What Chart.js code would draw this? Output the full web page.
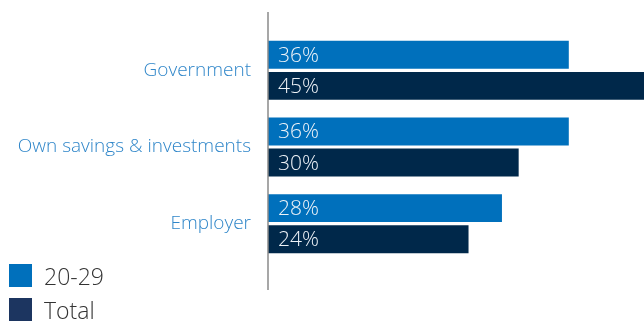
<!DOCTYPE html>
<html>
<head>
<meta charset="utf-8">
<script src="https://cdn.jsdelivr.net/npm/chart.js@4/dist/chart.umd.min.js"></script>
<style>
  html, body { margin: 0; padding: 0; background: #fff; }
  #wrap { position: relative; width: 644px; height: 322px; }
  #legend { position: absolute; left: 9px; top: 264px; font-family: "Open Sans", sans-serif; font-weight: 300; font-size: 23px; color: #333; }
  .item { display: flex; align-items: center; height: 23px; margin-bottom: 11px; }
  .sw { width: 23px; height: 23px; margin-right: 12px; flex: none; }
</style>
</head>
<body>
<div id="wrap">
  <canvas id="c" width="644" height="322"></canvas>
  <div id="legend"></div>
</div>
<script>
const categories = ["Government", "Own savings & investments", "Employer"];
const age2029 = [36, 36, 28];
const total = [45, 30, 24];
const seriesNames = ["20-29", "Total"];

const barColors = ["#0070BC", "#00284A"];
const legendColors = ["#0070BC", "#1C3560"];

// white percentage labels inside each bar, near its base
const valueLabels = {
  id: "valueLabels",
  afterDatasetsDraw(chart) {
    const ctx = chart.ctx;
    ctx.save();
    ctx.font = "300 21px 'Open Sans', sans-serif";
    ctx.fillStyle = "#EEF3F8";
    ctx.textAlign = "left";
    ctx.textBaseline = "middle";
    chart.data.datasets.forEach((ds, i) => {
      chart.getDatasetMeta(i).data.forEach((bar, j) => {
        ctx.fillText(ds.data[j] + "%", bar.base + 10, bar.y + 1);
      });
    });
    ctx.restore();
  }
};

// vertical axis line extending slightly beyond the plot area
const axisLine = {
  id: "axisLine",
  afterDraw(chart) {
    const { ctx, chartArea } = chart;
    ctx.save();
    ctx.strokeStyle = "#8a8a8a";
    ctx.lineWidth = 1.5;
    ctx.beginPath();
    ctx.moveTo(chartArea.left, chartArea.top - 20);
    ctx.lineTo(chartArea.left, chartArea.bottom + 28);
    ctx.stroke();
    ctx.restore();
  }
};

new Chart(document.getElementById("c"), {
  type: "bar",
  data: {
    labels: categories,
    datasets: [
      { label: seriesNames[0], data: age2029, backgroundColor: barColors[0] },
      { label: seriesNames[1], data: total, backgroundColor: barColors[1] }
    ]
  },
  options: {
    indexAxis: "y",
    responsive: false,
    animation: false,
    categoryPercentage: 0.81,
    barPercentage: 0.9,
    layout: { padding: { top: 32, bottom: 60, left: 0, right: 0 } },
    plugins: { legend: { display: false }, tooltip: { enabled: false } },
    scales: {
      x: { display: false, min: 0, max: 45 },
      y: {
        grid: { display: false, drawTicks: false },
        border: { display: false },
        afterFit(scale) { scale.width = 268; },
        ticks: {
          color: "#2F86C9",
          padding: 17,
          font: { family: "'Open Sans', sans-serif", size: 19, weight: 300 }
        }
      }
    }
  },
  plugins: [valueLabels, axisLine]
});

const legend = document.getElementById("legend");
seriesNames.forEach((name, i) => {
  const row = document.createElement("div");
  row.className = "item";
  const sw = document.createElement("div");
  sw.className = "sw";
  sw.style.background = legendColors[i];
  const tx = document.createElement("span");
  tx.textContent = name;
  row.appendChild(sw);
  row.appendChild(tx);
  legend.appendChild(row);
});
</script>
</body>
</html>
